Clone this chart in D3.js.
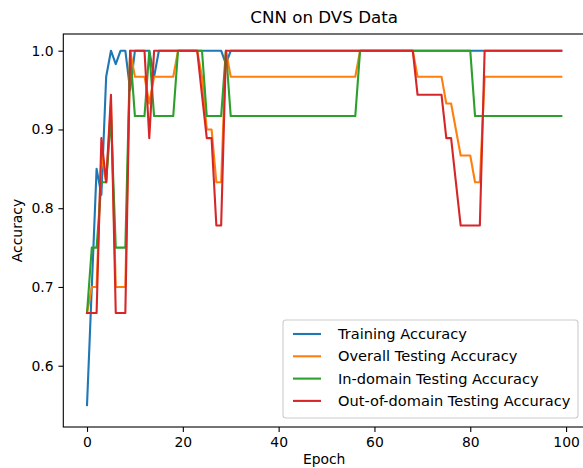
<!DOCTYPE html>
<html>
<head>
<meta charset="utf-8">
<script src="https://cdn.jsdelivr.net/npm/d3@7"></script>
<style>
  body { margin: 0; background: #fff; }
  svg { display: block; font-family: "DejaVu Sans", sans-serif; }
</style>
</head>
<body>
<div id="chart"></div>
<script>
// epochs 0..99
const epochs = d3.range(100);

const trainAcc = [
  0.550, 0.700, 0.850, 0.817, 0.967, 1.000, 0.983, 1.000, 1.000, 0.950,
  1.000, 1.000, 1.000, 1.000, 0.967, 1.000, 1.000, 1.000, 1.000, 1.000,
  1.000, 1.000, 1.000, 1.000, 1.000, 1.000, 1.000, 1.000, 1.000, 0.983,
  1.000, 1.000, 1.000, 1.000, 1.000, 1.000, 1.000, 1.000, 1.000, 1.000,
  1.000, 1.000, 1.000, 1.000, 1.000, 1.000, 1.000, 1.000, 1.000, 1.000,
  1.000, 1.000, 1.000, 1.000, 1.000, 1.000, 1.000, 1.000, 1.000, 1.000,
  1.000, 1.000, 1.000, 1.000, 1.000, 1.000, 1.000, 1.000, 1.000, 1.000,
  1.000, 1.000, 1.000, 1.000, 1.000, 1.000, 1.000, 1.000, 1.000, 1.000,
  1.000, 1.000, 1.000, 1.000, 1.000, 1.000, 1.000, 1.000, 1.000, 1.000,
  1.000, 1.000, 1.000, 1.000, 1.000, 1.000, 1.000, 1.000, 1.000, 1.000
];

const overallAcc = [
  0.667, 0.700, 0.700, 0.867, 0.833, 0.933, 0.700, 0.700, 0.700, 1.000,
  0.967, 0.967, 0.967, 0.933, 0.967, 0.967, 0.967, 0.967, 0.967, 1.000,
  1.000, 1.000, 1.000, 1.000, 0.967, 0.900, 0.900, 0.833, 0.833, 1.000,
  0.967, 0.967, 0.967, 0.967, 0.967, 0.967, 0.967, 0.967, 0.967, 0.967,
  0.967, 0.967, 0.967, 0.967, 0.967, 0.967, 0.967, 0.967, 0.967, 0.967,
  0.967, 0.967, 0.967, 0.967, 0.967, 0.967, 0.967, 1.000, 1.000, 1.000,
  1.000, 1.000, 1.000, 1.000, 1.000, 1.000, 1.000, 1.000, 1.000, 0.967,
  0.967, 0.967, 0.967, 0.967, 0.967, 0.933, 0.933, 0.900, 0.867, 0.867,
  0.867, 0.833, 0.833, 0.967, 0.967, 0.967, 0.967, 0.967, 0.967, 0.967,
  0.967, 0.967, 0.967, 0.967, 0.967, 0.967, 0.967, 0.967, 0.967, 0.967
];

const inDomainAcc = [
  0.667, 0.750, 0.750, 0.833, 0.833, 0.917, 0.750, 0.750, 0.750, 1.000,
  0.917, 0.917, 0.917, 1.000, 0.917, 0.917, 0.917, 0.917, 0.917, 1.000,
  1.000, 1.000, 1.000, 1.000, 1.000, 0.917, 0.917, 0.917, 0.917, 1.000,
  0.917, 0.917, 0.917, 0.917, 0.917, 0.917, 0.917, 0.917, 0.917, 0.917,
  0.917, 0.917, 0.917, 0.917, 0.917, 0.917, 0.917, 0.917, 0.917, 0.917,
  0.917, 0.917, 0.917, 0.917, 0.917, 0.917, 0.917, 1.000, 1.000, 1.000,
  1.000, 1.000, 1.000, 1.000, 1.000, 1.000, 1.000, 1.000, 1.000, 1.000,
  1.000, 1.000, 1.000, 1.000, 1.000, 1.000, 1.000, 1.000, 1.000, 1.000,
  1.000, 0.917, 0.917, 0.917, 0.917, 0.917, 0.917, 0.917, 0.917, 0.917,
  0.917, 0.917, 0.917, 0.917, 0.917, 0.917, 0.917, 0.917, 0.917, 0.917
];

const outDomainAcc = [
  0.667, 0.667, 0.667, 0.889, 0.833, 0.944, 0.667, 0.667, 0.667, 1.000,
  1.000, 1.000, 1.000, 0.889, 1.000, 1.000, 1.000, 1.000, 1.000, 1.000,
  1.000, 1.000, 1.000, 1.000, 0.944, 0.889, 0.889, 0.778, 0.778, 1.000,
  1.000, 1.000, 1.000, 1.000, 1.000, 1.000, 1.000, 1.000, 1.000, 1.000,
  1.000, 1.000, 1.000, 1.000, 1.000, 1.000, 1.000, 1.000, 1.000, 1.000,
  1.000, 1.000, 1.000, 1.000, 1.000, 1.000, 1.000, 1.000, 1.000, 1.000,
  1.000, 1.000, 1.000, 1.000, 1.000, 1.000, 1.000, 1.000, 1.000, 0.944,
  0.944, 0.944, 0.944, 0.944, 0.944, 0.889, 0.889, 0.833, 0.778, 0.778,
  0.778, 0.778, 0.778, 1.000, 1.000, 1.000, 1.000, 1.000, 1.000, 1.000,
  1.000, 1.000, 1.000, 1.000, 1.000, 1.000, 1.000, 1.000, 1.000, 1.000
];

const seriesNames = [
  "Training Accuracy",
  "Overall Testing Accuracy",
  "In-domain Testing Accuracy",
  "Out-of-domain Testing Accuracy"
];
const seriesColors = ["#1f77b4", "#ff7f0e", "#2ca02c", "#d62728"];
const xTicks = [0, 20, 40, 60, 80, 100];
const yTicks = [0.6, 0.7, 0.8, 0.9, 1.0];

const allSeries = [trainAcc, overallAcc, inDomainAcc, outDomainAcc];

const W = 583, H = 468;
const plotLeft = 63.3, plotRight = 585, plotTop = 34, plotBottom = 427;

const svg = d3.select("#chart").append("svg")
  .attr("width", W)
  .attr("height", H);

svg.append("rect").attr("width", W).attr("height", H).attr("fill", "#fff");

// matplotlib-style margins around the data
const x = d3.scaleLinear().domain([-4.95, 103.95]).range([plotLeft, plotRight]);
const y = d3.scaleLinear().domain([0.5222, 1.0212]).range([plotBottom, plotTop]);

// lines
const line = d3.line()
  .x((d, i) => x(epochs[i]))
  .y(d => y(d));

svg.append("g")
  .selectAll("path")
  .data(allSeries)
  .join("path")
  .attr("d", d => line(d))
  .attr("fill", "none")
  .attr("stroke", (d, i) => seriesColors[i])
  .attr("stroke-width", 2.1)
  .attr("stroke-linejoin", "round")
  .attr("stroke-linecap", "square");

// axes
const xAxis = d3.axisBottom(x).tickValues(xTicks).tickSize(4.9).tickPadding(4.9).tickFormat(d3.format("d"));
const yAxis = d3.axisLeft(y).tickValues(yTicks).tickSize(4.9).tickPadding(4.9).tickFormat(d3.format(".1f"));

const gx = svg.append("g").attr("transform", `translate(0,${plotBottom})`).call(xAxis);
const gy = svg.append("g").attr("transform", `translate(${plotLeft},0)`).call(yAxis);

[gx, gy].forEach(g => {
  g.select(".domain").remove();
  g.selectAll(".tick line").attr("stroke", "#000").attr("stroke-width", 1.1);
  g.selectAll(".tick text")
    .attr("fill", "#000")
    .style("font-size", "13.9px")
    .style("font-family", "DejaVu Sans, sans-serif");
});

// frame
svg.append("rect")
  .attr("x", plotLeft).attr("y", plotTop)
  .attr("width", plotRight - plotLeft).attr("height", plotBottom - plotTop)
  .attr("fill", "none")
  .attr("stroke", "#000")
  .attr("stroke-width", 1.1);

// title and labels
svg.append("text")
  .attr("x", (plotLeft + plotRight) / 2).attr("y", 23)
  .attr("text-anchor", "middle")
  .style("font-size", "16.7px")
  .text("CNN on DVS Data");

svg.append("text")
  .attr("x", (plotLeft + plotRight) / 2).attr("y", 464)
  .attr("text-anchor", "middle")
  .style("font-size", "13.9px")
  .text("Epoch");

svg.append("text")
  .attr("transform", `translate(22,${(plotTop + plotBottom) / 2}) rotate(-90)`)
  .attr("text-anchor", "middle")
  .style("font-size", "13.9px")
  .text("Accuracy");

// legend
const lgX = 283, lgY = 320, lgW = 295, lgH = 98;
const legend = svg.append("g");
legend.append("rect")
  .attr("x", lgX).attr("y", lgY)
  .attr("width", lgW).attr("height", lgH)
  .attr("rx", 3).attr("ry", 3)
  .attr("fill", "#fff").attr("fill-opacity", 0.8)
  .attr("stroke", "#cccccc").attr("stroke-width", 1.1);

const items = legend.selectAll("g.item")
  .data(seriesNames)
  .join("g")
  .attr("class", "item")
  .attr("transform", (d, i) => `translate(${lgX},${lgY + 14 + i * 22.3})`);

items.append("line")
  .attr("x1", 10).attr("x2", 38)
  .attr("stroke", (d, i) => seriesColors[i])
  .attr("stroke-width", 2.1);

items.append("text")
  .attr("x", 55).attr("y", 5)
  .style("font-size", "14.6px")
  .text(d => d);
</script>
</body>
</html>
